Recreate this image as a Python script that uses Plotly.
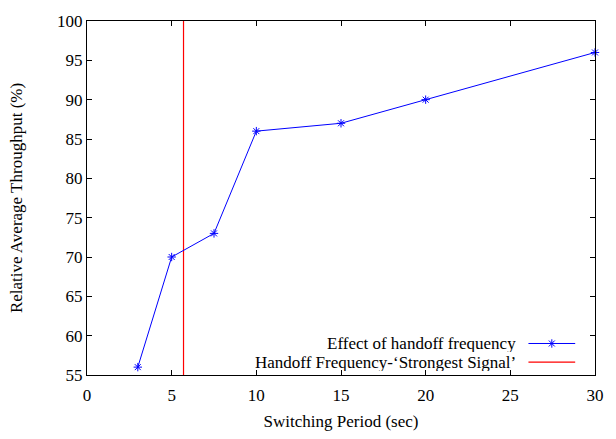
import plotly.graph_objects as go

periods = [3, 5, 7.5, 10, 15, 20, 30]
throughput = [56, 70, 73, 86, 87, 90, 96]
strongest_x = 5.7
y_range = [55, 100]
series_name = "Effect of handoff frequency"
vline_name = "Handoff Frequency-\u2018Strongest Signal\u2019"
x_ticks = [0, 5, 10, 15, 20, 25, 30]
y_ticks = [55, 60, 65, 70, 75, 80, 85, 90, 95, 100]

FONT = "Times New Roman, Liberation Serif, Times, serif"
FS = 17
BLUE = "#0000ff"
RED = "#ff0000"

fig = go.Figure()
fig.add_trace(go.Scatter(
    x=[strongest_x, strongest_x], y=y_range, mode="lines",
    line=dict(color=RED, width=1.2), showlegend=False, hoverinfo="skip",
))
fig.add_trace(go.Scatter(
    x=periods, y=throughput, mode="lines+markers",
    line=dict(color=BLUE, width=1),
    marker=dict(symbol="asterisk-open", size=7, color=BLUE,
                line=dict(color=BLUE, width=1)),
    showlegend=False, cliponaxis=False,
))

# manual legend (gnuplot style: text then sample on the right)
lx0, lx1 = 0.869, 0.961
rows = [0.089, 0.0364]
fig.add_trace(go.Scatter(
    x=[lx0, lx1], y=[rows[0], rows[0]], xaxis="x2", yaxis="y2", mode="lines",
    line=dict(color=BLUE, width=1), showlegend=False, hoverinfo="skip"))
fig.add_trace(go.Scatter(
    x=[(lx0 + lx1) / 2], y=[rows[0]], xaxis="x2", yaxis="y2", mode="markers",
    marker=dict(symbol="asterisk-open", size=7, color=BLUE,
                line=dict(color=BLUE, width=1)),
    showlegend=False, hoverinfo="skip"))
fig.add_trace(go.Scatter(
    x=[lx0, lx1], y=[rows[1], rows[1]], xaxis="x2", yaxis="y2", mode="lines",
    line=dict(color=RED, width=1.2), showlegend=False, hoverinfo="skip"))
for name, ry in zip([series_name, vline_name], rows):
    fig.add_annotation(x=0.847, y=ry, xref="x2", yref="y2", text=name,
                       showarrow=False, xanchor="right", yanchor="middle",
                       height=17, borderpad=0,
                       font=dict(family=FONT, size=FS, color="black"))

axis_common = dict(
    showgrid=False, zeroline=False, showline=True, linecolor="black", linewidth=1,
    mirror="ticks", ticks="inside", ticklen=5, tickcolor="black", tickwidth=1,
    tickfont=dict(family=FONT, size=FS, color="black"),
)
fig.update_layout(
    width=616, height=439,
    margin=dict(l=87, r=12, t=14, b=54),
    paper_bgcolor="white", plot_bgcolor="white",
    font=dict(family=FONT, size=FS, color="black"),
    xaxis=dict(range=[0, 30], tickvals=x_ticks, ticklabelstandoff=5,
               title=dict(text="Switching Period (sec)", standoff=10,
                          font=dict(family=FONT, size=FS)),
               **axis_common),
    yaxis=dict(range=y_range, tickvals=y_ticks,
               title=dict(text="Relative Average Throughput (%)", standoff=30,
                          font=dict(family=FONT, size=FS)),
               **axis_common),
    xaxis2=dict(range=[0, 1], overlaying="x", visible=False, fixedrange=True),
    yaxis2=dict(range=[0, 1], overlaying="y", visible=False, fixedrange=True),
    showlegend=False,
)
fig.write_html("out.html")
